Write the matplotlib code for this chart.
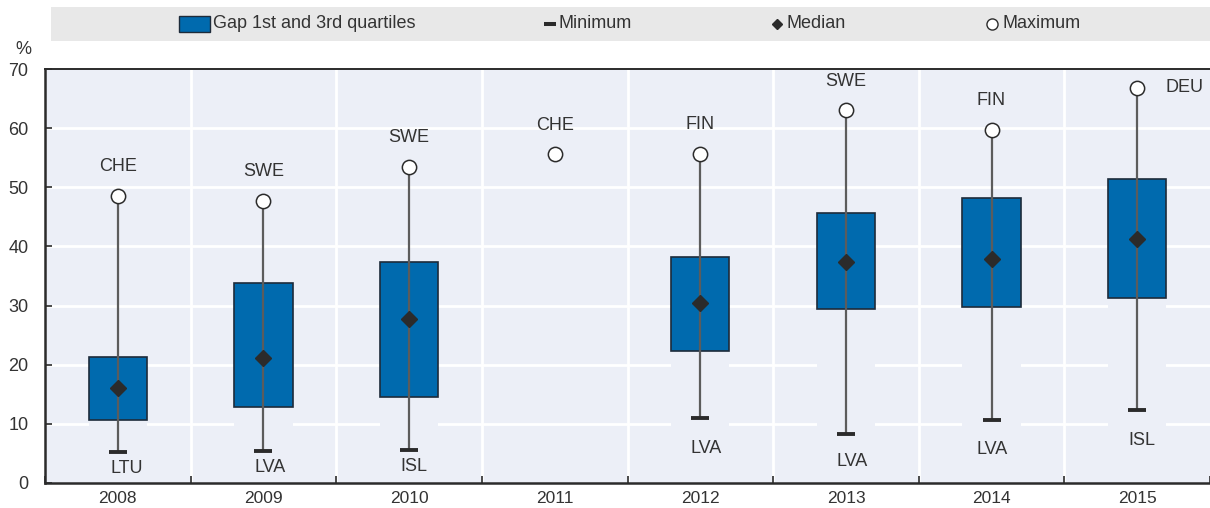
import matplotlib
matplotlib.use("Agg")
import matplotlib.pyplot as plt
from matplotlib import font_manager
from matplotlib.lines import Line2D
from matplotlib.patches import Rectangle

names = {f.name for f in font_manager.fontManager.ttflist}
FONT = "Liberation Sans Narrow" if "Liberation Sans Narrow" in names else "Liberation Sans"
plt.rcParams["font.family"] = [FONT, "DejaVu Sans"]

# ---- data ----
years = ["2008", "2009", "2010", "2011", "2012", "2013", "2014", "2015"]
q1 = [10.6, 12.8, 14.5, None, 22.3, 29.4, 29.7, 31.3]
q3 = [21.3, 33.8, 37.4, None, 38.2, 45.6, 48.15, 51.5]
median = [16.0, 21.1, 27.8, None, 30.4, 37.3, 37.8, 41.3]
minimum = [5.15, 5.4, 5.5, None, 10.95, 8.2, 10.7, 12.3]
maximum = [48.6, 47.7, 53.5, 55.6, 55.7, 63.05, 59.8, 66.9]
min_country = ["LTU", "LVA", "ISL", None, "LVA", "LVA", "LVA", "ISL"]
max_country = ["CHE", "SWE", "SWE", "CHE", "FIN", "SWE", "FIN", "DEU"]

# label offsets (pixels) -- layout only
min_lbl_dx = [9, 7, 5, 0, 6, 6, 1, 5]
min_lbl_dy = [-16, -17, -16, 0, -30, -27, -30, -30]

BLUE = "#006AAE"
EDGE = "#1d2b3a"
BG = "#ECEFF7"
DARK = "#2b2b2b"
TXT = "#333333"

fig = plt.figure(figsize=(12.10, 5.08), dpi=100)
ax = fig.add_axes([45 / 1210, (508 - 482.7) / 508, 1 - 45 / 1210, (482.7 - 69.3) / 508])
ax.set_facecolor(BG)
ax.set_xlim(-0.5, len(years) - 0.5)
ax.set_ylim(0, 70)

# grid
for yv in range(10, 70, 10):
    ax.axhline(yv, color="white", lw=2, zorder=1)
for xb in range(1, len(years)):
    ax.axvline(xb - 0.5, color="white", lw=2, zorder=1)

W = 0.40
xs = range(len(years))
for i in xs:
    if q1[i] is not None:
        # invisible lower part (covers gridlines)
        ax.bar(i, q1[i], width=W, bottom=0, color=BG, zorder=2, linewidth=0)
        ax.bar(i, q3[i] - q1[i], width=W, bottom=q1[i], color=BLUE,
               edgecolor=EDGE, linewidth=1.2, zorder=3)
    if minimum[i] is not None:
        ax.plot([i, i], [minimum[i], maximum[i]], color="#5c5c5c", lw=1.6,
                zorder=4, solid_capstyle="butt")
        ax.plot(i, minimum[i], marker="_", ms=12.5, mew=2.8, color=DARK, zorder=5)
    if median[i] is not None:
        ax.plot(i, median[i], marker="D", ms=8.6, color=DARK, mec=DARK, zorder=5)
    ax.plot(i, maximum[i], marker="o", ms=10.3, mfc="white", mec=DARK, mew=1.1, zorder=6)

    # labels
    if max_country[i] == "DEU":
        ax.annotate(max_country[i], (i, maximum[i]), xytext=(28, 0),
                    textcoords="offset pixels", ha="left", va="center",
                    fontsize=13, color=TXT, zorder=7)
    else:
        ax.annotate(max_country[i], (i, maximum[i]), xytext=(0, 29),
                    textcoords="offset pixels", ha="center", va="center",
                    fontsize=13, color=TXT, zorder=7)
    if min_country[i] is not None:
        ax.annotate(min_country[i], (i, minimum[i]), xytext=(min_lbl_dx[i], min_lbl_dy[i]),
                    textcoords="offset pixels", ha="center", va="center",
                    fontsize=13, color=TXT, zorder=7)

# axes styling
ax.set_yticks(range(0, 71, 10))
ax.set_yticklabels([str(v) for v in range(0, 71, 10)], fontsize=13, color=TXT)
ax.tick_params(axis="y", direction="in", length=5, width=1.2, color=DARK, pad=12)
ax.set_xticks(list(xs))
ax.set_xticklabels(years, fontsize=12.5, color=TXT)
ax.tick_params(axis="x", which="major", length=0, pad=6)
ax.set_xticks([x + 0.5 for x in range(-1, len(years))], minor=True)
ax.tick_params(axis="x", which="minor", direction="in", length=5, width=1.2, color=DARK)
for s in ["left", "bottom"]:
    ax.spines[s].set_color(DARK)
    ax.spines[s].set_linewidth(1.8)
ax.spines["top"].set_color(DARK)
ax.spines["top"].set_linewidth(1.4)
ax.spines["right"].set_visible(False)

fig.text(23 / 1210, 1 - 50 / 508, "%", ha="center", va="center", fontsize=13, color=TXT)

# legend band
fig.patches.append(Rectangle((51 / 1210, 1 - 41 / 508), 1 - 51 / 1210, 34 / 508,
                             transform=fig.transFigure, facecolor="#E8E8E8",
                             edgecolor="none", zorder=0))
ly = 1 - 24 / 508
fig.patches.append(Rectangle((179 / 1210, 1 - 32 / 508), 31 / 1210, 16 / 508,
                             transform=fig.transFigure, facecolor=BLUE,
                             edgecolor=EDGE, linewidth=1, zorder=2))
fig.text(213 / 1210, ly, "Gap 1st and 3rd quartiles", ha="left", va="center",
         fontsize=13, color=TXT)
fig.add_artist(Line2D([550 / 1210], [ly], marker="_", ms=8.6, mew=2.9, color=DARK,
                      transform=fig.transFigure))
fig.text(559 / 1210, ly, "Minimum", ha="left", va="center", fontsize=13, color=TXT)
fig.add_artist(Line2D([777 / 1210], [ly], marker="D", ms=5.6, color=DARK, mec=DARK,
                      transform=fig.transFigure))
fig.text(787 / 1210, ly, "Median", ha="left", va="center", fontsize=13, color=TXT)
fig.add_artist(Line2D([992 / 1210], [ly], marker="o", ms=8, mfc="white", mec=DARK, mew=1,
                      transform=fig.transFigure))
fig.text(1002 / 1210, ly, "Maximum", ha="left", va="center", fontsize=13, color=TXT)

fig.savefig("out.png", dpi=100)
